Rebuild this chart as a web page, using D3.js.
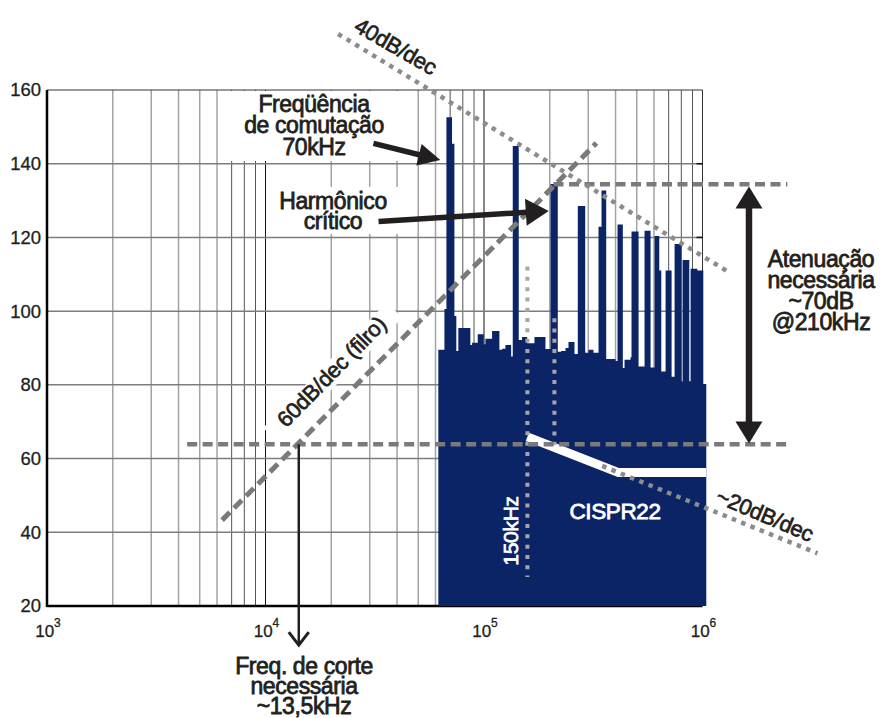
<!DOCTYPE html>
<html>
<head>
<meta charset="utf-8">
<script src="https://cdn.jsdelivr.net/npm/d3@7"></script>
<style>
  body { margin: 0; background: #fff; }
  svg { display: block; font-family: "Liberation Sans", Arial, Helvetica, sans-serif; }
</style>
</head>
<body>
<svg id="grafico" width="880" height="718"></svg>
<script>
// espectro medido: inicio de cada degrau (kHz) e nivel (dBuV)
var espectroKHz = [61.8, 65.9, 67.3, 71.4, 73.2, 74.7, 76.3, 86.6, 88.2, 93.6,
  99.7, 101.5, 108.9, 117.6, 121.0, 125.3, 133.1, 135.4, 144.2, 149.4,
  157.6, 170.2, 191.1, 201.5, 217.6, 225.5, 236.0, 243.6, 259.5, 268.7,
  290.5, 300.8, 317.0, 334.3, 345.0, 362.5, 399.9, 408.4, 431.9, 439.7,
  468.3, 473.3, 509.8, 543.0, 578.5, 603.4, 634.1, 647.7, 677.7, 722.0,
  745.2, 799.5, 810.5, 869.9, 882.0, 946.6, 1008.6, 1040.8];
var espectroDb = [89.5, 100.6, 152.6, 145.4, 98.7, 89.2, 95.4, 90.8, 91.4, 93.7,
  91.0, 92.5, 94.6, 89.5, 89.8, 90.8, 87.7, 144.8, 92.2, 93.0,
  91.3, 93.0, 89.7, 134.5, 89.0, 89.2, 90.0, 91.6, 88.4, 128.5,
  88.7, 89.5, 88.7, 122.9, 132.7, 87.0, 86.5, 123.5, 84.6, 86.8,
  87.5, 121.6, 85.0, 121.8, 84.7, 120.4, 111.0, 83.6, 111.0, 82.2,
  118.2, 80.9, 113.9, 81.0, 111.5, 111.0, 80.2, 80.2];

// retas de referencia (kHz, dB)
var reta40KHz = [21.5, 1317], reta40Db = [175.2, 110.6];
var reta60KHz = [6.33, 327], reta60Db = [43.3, 145.6];
var reta20KHz = [347.5, 3357], reta20Db = [58.0, 34.3];
var nivelHarmKHz = [208, 2446], nivelHarmDb = [134.4, 134.4];
var nivelLimKHz = [4.38, 2480], nivelLimDb = [63.9, 63.9];
var marca150KHz = [158, 158], marca150Db = [112.1, 27.9];
var marca210KHz = [210, 210], marca210Db = [98.1, 63.7];
var cisprKHz = [158, 413, 1040], cisprDb = [65.9, 56.2, 56.2];

// setas (kHz, dB): cauda -> ponta
var seta70KHz = [31.2, 63.1], seta70Db = [145.5, 141.0];
var setaHarmKHz = [32.9, 197.9], setaHarmDb = [124.3, 127.2];
var setaAtenKHz = [1632, 1632], setaAtenDb = [133.8, 64.1];
var setaCorteKHz = [14.2, 14.2], setaCorteDb = [63.9, 9.4];

var yTicks = [20, 40, 60, 80, 100, 120, 140, 160];
var xDecadas = [3, 4, 5, 6];

var svg = d3.select("#grafico");
var tinta = "#231f20";
var azul = "#0b2466";

var x = d3.scaleLog().domain([1e3, 1e6]).range([47, 702.5]);
var y = d3.scaleLinear().domain([20, 160]).range([606, 90]);

function pares(fk, db) {
  return fk.map(function(f, i) { return [f * 1000, db[i]]; });
}
var linha = d3.line().x(function(d) { return x(d[0]); }).y(function(d) { return y(d[1]); });

// grade
var menores = [];
for (var e = 3; e < 6; e++) {
  for (var m = 2; m <= 9; m++) menores.push(m * Math.pow(10, e));
}
function mult(d) { return Math.round(d / Math.pow(10, Math.floor(Math.log10(d) + 1e-9))); }
svg.append("g").selectAll("line")
  .data(menores)
  .enter()
  .append("line")
  .attr("x1", function(d) { return x(d); })
  .attr("x2", function(d) { return x(d); })
  .attr("y1", y(160))
  .attr("y2", y(20))
  .attr("stroke", function(d) { return mult(d) >= 7 ? "#555" : "#a3a3a3"; })
  .attr("stroke-width", function(d) { return mult(d) >= 7 ? 1 : 1.5; });

svg.append("g").selectAll("line")
  .data([1e4, 1e5])
  .enter()
  .append("line")
  .attr("x1", function(d) { return x(d); })
  .attr("x2", function(d) { return x(d); })
  .attr("y1", y(160))
  .attr("y2", y(20))
  .attr("stroke", "#111")
  .attr("stroke-width", 1);

svg.append("g").selectAll("line")
  .data(yTicks.slice(1, -1))
  .enter()
  .append("line")
  .attr("x1", x(1e3))
  .attr("x2", x(1e6))
  .attr("y1", function(d) { return y(d); })
  .attr("y2", function(d) { return y(d); })
  .attr("stroke", "#7d7d7d")
  .attr("stroke-width", 1.5);

// caixas brancas atras dos rotulos
svg.append("rect").attr("x", 224).attr("y", 91).attr("width", 186).attr("height", 70).attr("fill", "#fff");
svg.append("rect").attr("x", 270).attr("y", 187).attr("width", 135).attr("height", 47).attr("fill", "#fff");

// moldura
svg.append("line").attr("x1", x(1e3)).attr("x2", x(1e6)).attr("y1", y(160)).attr("y2", y(160))
  .attr("stroke", "#333").attr("stroke-width", 1);
svg.append("line").attr("x1", x(1e6)).attr("x2", x(1e6)).attr("y1", y(160)).attr("y2", y(20))
  .attr("stroke", "#333").attr("stroke-width", 1);
svg.append("g").selectAll("line")
  .data(yTicks.slice(1, -1))
  .enter()
  .append("line")
  .attr("x1", x(1e6) - 6).attr("x2", x(1e6))
  .attr("y1", function(d) { return y(d); })
  .attr("y2", function(d) { return y(d); })
  .attr("stroke", "#111").attr("stroke-width", 1.5);
svg.append("line").attr("x1", x(1e3)).attr("x2", x(1e6)).attr("y1", y(20)).attr("y2", y(20))
  .attr("stroke", "#000").attr("stroke-width", 2.5);
svg.append("line").attr("x1", x(1e3)).attr("x2", x(1e3)).attr("y1", y(160)).attr("y2", y(20) + 1)
  .attr("stroke", "#000").attr("stroke-width", 2.5);

// eixo y
var eixoY = svg.append("g")
  .attr("transform", "translate(" + x(1e3) + ",0)")
  .call(d3.axisLeft(y).tickValues(yTicks).tickSize(0).tickPadding(6));
eixoY.select(".domain").remove();
eixoY.selectAll("text")
  .attr("font-family", "Liberation Sans, Arial, sans-serif")
  .attr("font-size", "18.5px")
  .attr("fill", tinta)
  .attr("stroke", tinta)
  .attr("stroke-width", 0.3);

// eixo x com expoentes
var rotX = svg.append("g").selectAll("text")
  .data(xDecadas)
  .enter()
  .append("text")
  .attr("x", function(d) { return x(Math.pow(10, d)) + 1; })
  .attr("y", 637)
  .attr("text-anchor", "middle")
  .attr("font-size", "17px")
  .attr("fill", tinta)
  .attr("stroke", tinta)
  .attr("stroke-width", 0.3);
rotX.append("tspan").text("10");
rotX.append("tspan").attr("dy", -10).attr("font-size", "12px").text(function(d) { return d; });

// espectro
var pontos = pares(espectroKHz, espectroDb);
svg.append("path")
  .datum(pontos)
  .attr("d", d3.area()
    .x(function(d) { return x(d[0]); })
    .y0(y(20))
    .y1(function(d) { return y(d[1]); })
    .curve(d3.curveStepAfter))
  .attr("fill", azul);

// limite CISPR22
svg.append("path")
  .datum(pares(cisprKHz, cisprDb))
  .attr("d", linha)
  .attr("fill", "none")
  .attr("stroke", "#fff")
  .attr("stroke-width", 9);

// rotulo 60dB/dec com fundo branco
var r60 = svg.append("g").attr("transform", "translate(337,377) rotate(-45.4)");
r60.append("rect").attr("x", -88).attr("y", -17).attr("width", 176).attr("height", 22).attr("fill", "#fff");
r60.append("text").attr("text-anchor", "middle").attr("font-size", "22px").attr("fill", tinta)
  .attr("stroke", tinta).attr("stroke-width", 0.7).attr("letter-spacing", "-0.3px")
  .text("60dB/dec (filro)");

// retas tracejadas e pontilhadas
function reta(fk, db, cor, tracos, larg) {
  svg.append("path")
    .datum(pares(fk, db))
    .attr("d", linha)
    .attr("fill", "none")
    .attr("stroke", cor)
    .attr("stroke-width", larg)
    .attr("stroke-dasharray", tracos);
}
reta(marca150KHz, marca150Db, "#a6a6a6", "4,6.3", 4);
reta(marca210KHz, marca210Db, "#a6a6a6", "4,6.3", 4);
reta(nivelLimKHz, nivelLimDb, "#7a7a7a", "10,5.5", 4.5);
reta(nivelHarmKHz, nivelHarmDb, "#7a7a7a", "10,5.5", 4.5);
reta(reta60KHz, reta60Db, "#7a7a7a", "11,6", 5);
reta(reta40KHz, reta40Db, "#8c8c8c", "4.5,5.5", 4.5);
reta(reta20KHz, reta20Db, "#8c8c8c", "4.5,5.5", 4.5);

// setas
function seta(fk, db, larg, comp, abert, dupla) {
  var p0 = [x(fk[0] * 1000), y(db[0])];
  var p1 = [x(fk[1] * 1000), y(db[1])];
  var dx = p1[0] - p0[0], dy = p1[1] - p0[1];
  var L = Math.sqrt(dx * dx + dy * dy);
  var ux = dx / L, uy = dy / L, nx = -uy, ny = ux;
  function cabeca(tip, sx, sy) {
    var bx = tip[0] - sx * comp, by = tip[1] - sy * comp;
    return [[tip[0], tip[1]], [bx + nx * abert / 2, by + ny * abert / 2], [bx - nx * abert / 2, by - ny * abert / 2]];
  }
  var a = dupla ? [p0[0] + ux * comp * 0.8, p0[1] + uy * comp * 0.8] : p0;
  var b = [p1[0] - ux * comp * 0.8, p1[1] - uy * comp * 0.8];
  svg.append("line")
    .attr("x1", a[0]).attr("y1", a[1]).attr("x2", b[0]).attr("y2", b[1])
    .attr("stroke", tinta).attr("stroke-width", larg);
  var cabecas = [cabeca(p1, ux, uy)];
  if (dupla) cabecas.push(cabeca(p0, -ux, -uy));
  svg.append("g").selectAll("polygon")
    .data(cabecas)
    .enter()
    .append("polygon")
    .attr("points", function(d) { return d.map(function(p) { return p.join(","); }).join(" "); })
    .attr("fill", tinta);
}
seta(seta70KHz, seta70Db, 5.5, 22, 22, false);
seta(setaHarmKHz, setaHarmDb, 5.5, 23, 27, false);
seta(setaAtenKHz, setaAtenDb, 6.5, 22, 27, true);

// seta fina da frequencia de corte
var xc = x(setaCorteKHz[0] * 1000);
var yc0 = y(setaCorteDb[0]), yc1 = y(setaCorteDb[1]);
svg.append("line").attr("x1", xc).attr("x2", xc).attr("y1", yc0).attr("y2", yc1 - 1)
  .attr("stroke", tinta).attr("stroke-width", 2.5);
svg.append("polyline")
  .attr("points", [[xc - 10, yc1 - 13], [xc, yc1], [xc + 10, yc1 - 13]].map(function(p) { return p.join(","); }).join(" "))
  .attr("fill", "none").attr("stroke", tinta).attr("stroke-width", 3);

// textos
function bloco(cx, by, linhas, passo, cor, tam) {
  var t = svg.append("text")
    .attr("text-anchor", "middle")
    .attr("font-size", tam)
    .attr("fill", cor)
    .attr("stroke", cor)
    .attr("stroke-width", 0.8)
    .attr("letter-spacing", "-0.4px");
  linhas.forEach(function(l, i) {
    t.append("tspan").attr("x", cx).attr("y", by + i * passo).text(l);
  });
}
bloco(314, 112, ["Freqüência", "de comutação", "70kHz"], 21.3, tinta, "23px");
bloco(333, 208.5, ["Harmônico", "crítico"], 20, tinta, "23px");
bloco(821, 267, ["Atenuação", "necessária", "~70dB", "@210kHz"], 21.1, tinta, "23px");
bloco(304, 673.5, ["Freq. de corte", "necessária", "~13,5kHz"], 20, tinta, "23px");
bloco(615, 518.5, ["CISPR22"], 0, "#fff", "22.5px");

function girado(tx, ty, ang, txt, cor, tam) {
  svg.append("text")
    .attr("transform", "translate(" + tx + "," + ty + ") rotate(" + ang + ")")
    .attr("text-anchor", "middle").attr("font-size", tam)
    .attr("fill", cor).attr("stroke", cor).attr("stroke-width", 0.7)
    .attr("letter-spacing", "-0.3px")
    .text(txt);
}
girado(392, 53, 30, "40dB/dec", tinta, "22px");
girado(762, 522, 23, "~20dB/dec", tinta, "22px");
girado(518, 531, -90, "150kHz", "#fff", "21px");
</script>
</body>
</html>
